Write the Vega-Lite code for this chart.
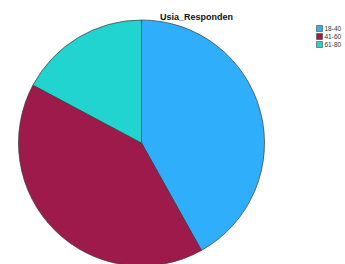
{
  "$schema": "https://vega.github.io/schema/vega-lite/v6.json",
  "autosize": "none",
  "width": 283,
  "height": 238,
  "padding": {"top": 24, "left": 0, "right": 62, "bottom": 2},
  "background": "white",
  "title": {
    "text": "Usia_Responden",
    "anchor": "start",
    "dx": 160,
    "offset": -3,
    "font": "Liberation Sans",
    "fontSize": 9,
    "fontWeight": "bold",
    "color": "#111111"
  },
  "data": {
    "values": [
      {"Usia": "18-40", "Persen": 41.9},
      {"Usia": "41-60", "Persen": 40.9},
      {"Usia": "61-80", "Persen": 17.2}
    ]
  },
  "mark": {"type": "arc", "radius": 123, "stroke": "#3a3a3a", "strokeWidth": 0.7},
  "encoding": {
    "theta": {"field": "Persen", "type": "quantitative", "stack": true},
    "order": {"field": "Usia", "type": "ordinal", "sort": "ascending"},
    "color": {
      "field": "Usia",
      "type": "nominal",
      "scale": {"domain": ["18-40", "41-60", "61-80"], "range": ["#2FAEFB", "#9E1A4B", "#22D4D0"]},
      "legend": {
        "title": null,
        "orient": "none",
        "legendX": 316,
        "legendY": 1,
        "symbolType": "square",
        "symbolSize": 36,
        "symbolStrokeColor": "#444444",
        "symbolStrokeWidth": 0.6,
        "labelFont": "Liberation Sans",
        "labelFontSize": 6.5,
        "labelColor": "#333333",
        "labelOffset": 1.5,
        "rowPadding": -3
      }
    }
  },
  "config": {"view": {"stroke": null}}
}
